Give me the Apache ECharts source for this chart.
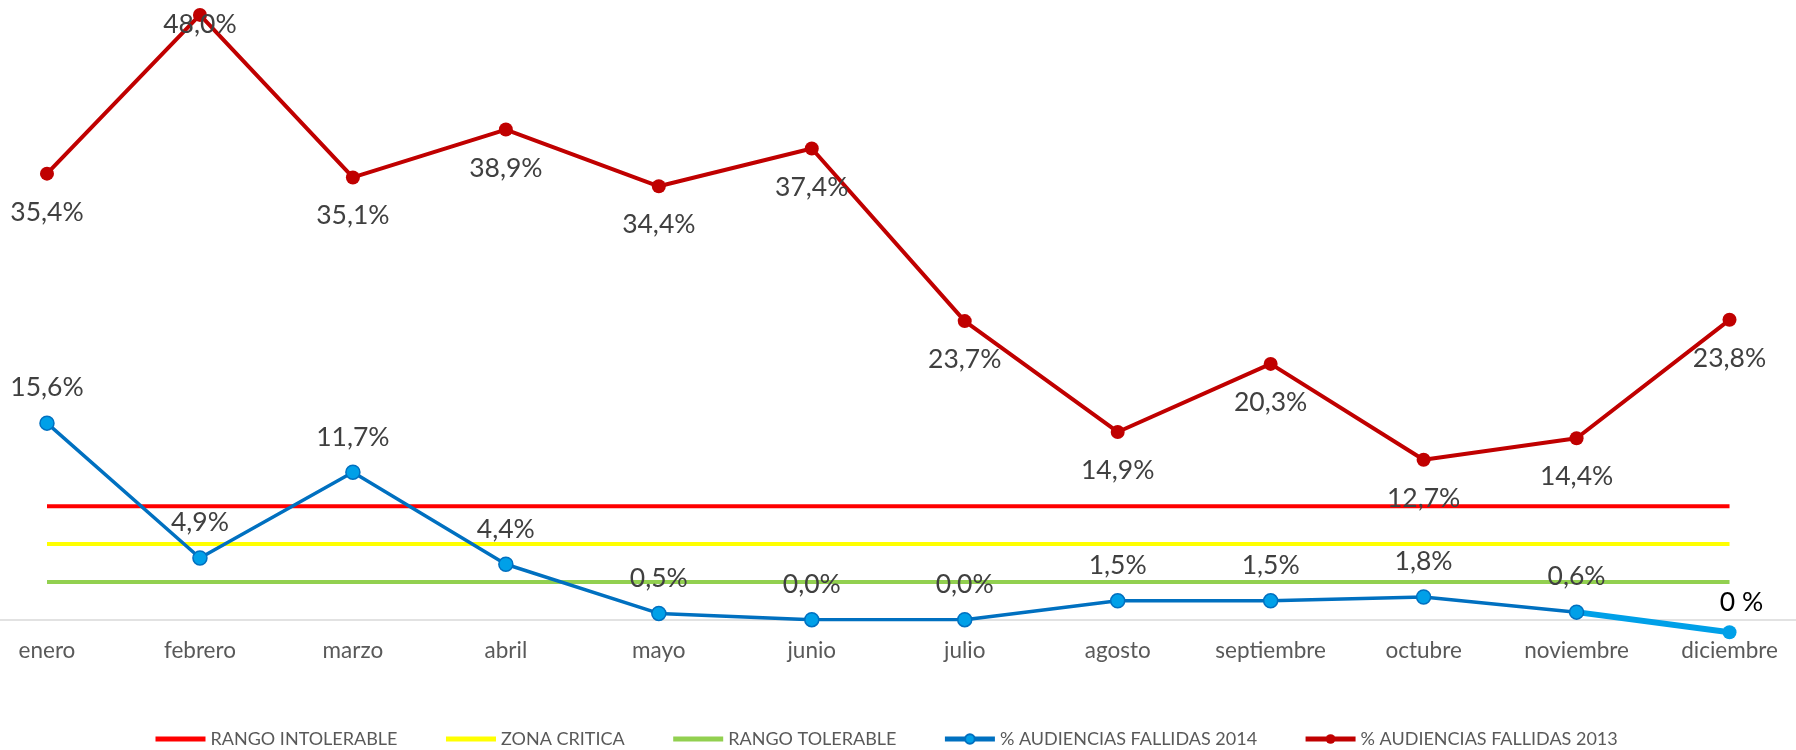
<!DOCTYPE html>
<html>
<head>
<meta charset="utf-8">
<script src="https://cdn.jsdelivr.net/npm/echarts@6/dist/echarts.min.js"></script>
<style>
  html, body { margin: 0; padding: 0; background: #fff; }
  #chart { width: 1796px; height: 750px; }
</style>
</head>
<body>
<div id="chart"></div>
<script>
var months = ["enero", "febrero", "marzo", "abril", "mayo", "junio", "julio",
  "agosto", "septiembre", "octubre", "noviembre", "diciembre"];
var fallidas2013 = [35.4, 48.0, 35.1, 38.9, 34.4, 37.4, 23.7, 14.9, 20.3, 12.7, 14.4, 23.8];
// last point sits a little under the axis in the picture, labelled "0 %"
var fallidas2014 = [15.6, 4.9, 11.7, 4.4, 0.5, 0.0, 0.0, 1.5, 1.5, 1.8, 0.6, -1.0];
var rangoIntolerable = 9;
var zonaCritica = 6;
var rangoTolerable = 3;

var FONT = "Lato, 'Open Sans', sans-serif";

function pct(v) {
  return v.toFixed(1).replace(".", ",") + "%";
}

function flat(v) {
  return months.map(function () { return v; });
}

// main 2014 line stops at noviembre, the last stretch is drawn thicker
var main2014 = fallidas2014.map(function (v, i) { return i < 11 ? v : null; });
var tail2014 = fallidas2014.map(function (v, i) { return i >= 10 ? v : null; });

var data2013 = fallidas2013.map(function (v, i) {
  if (i === 1) {
    return { value: v, label: { offset: [0, -29] } };
  }
  return v;
});

var labelBase = {
  show: true,
  color: "#404040",
  fontSize: 26.5,
  fontFamily: FONT
};

// plain line in the legend for the threshold series
var noMark = { color: "rgba(0,0,0,0)", borderColor: "rgba(0,0,0,0)" };

var chart = echarts.init(document.getElementById("chart"));
chart.setOption({
  animation: false,
  grid: {
    left: -29.5,
    right: -10,
    top: -10.3,
    bottom: 130.3,
    outerBoundsMode: "none"
  },
  legend: {
    data: [
      { name: "RANGO INTOLERABLE", itemStyle: noMark },
      { name: "ZONA CRITICA", itemStyle: noMark },
      { name: "RANGO TOLERABLE", itemStyle: noMark },
      "% AUDIENCIAS FALLIDAS 2014",
      "% AUDIENCIAS FALLIDAS 2013"
    ],
    left: 148,
    top: 725,
    itemWidth: 50,
    itemHeight: 12,
    itemGap: 46,
    lineStyle: { width: 5 },
    textStyle: {
      color: "#595959",
      fontSize: 18,
      fontFamily: FONT
    }
  },
  xAxis: {
    type: "category",
    data: months,
    boundaryGap: true,
    axisLine: { onZero: false, lineStyle: { color: "#d9d9d9", width: 1.5 } },
    axisTick: { show: false },
    axisLabel: {
      color: "#595959",
      fontSize: 22.5,
      fontFamily: FONT,
      margin: 20
    }
  },
  yAxis: {
    type: "value",
    min: 0,
    max: 50,
    interval: 5,
    show: false,
    splitLine: { show: false }
  },
  series: [
    {
      name: "RANGO INTOLERABLE",
      type: "line",
      data: flat(rangoIntolerable),
      symbol: "none",
      color: "#ff0000",
      lineStyle: { color: "#ff0000", width: 4 }
    },
    {
      name: "ZONA CRITICA",
      type: "line",
      data: flat(zonaCritica),
      symbol: "none",
      color: "#ffff00",
      lineStyle: { color: "#ffff00", width: 4 }
    },
    {
      name: "RANGO TOLERABLE",
      type: "line",
      data: flat(rangoTolerable),
      symbol: "none",
      color: "#92d050",
      lineStyle: { color: "#92d050", width: 4 }
    },
    {
      name: "dic2014",
      type: "line",
      data: tail2014,
      clip: false,
      z: 2,
      symbol: "circle",
      symbolSize: function (v, p) { return p.dataIndex === 11 ? 14 : 0; },
      itemStyle: { color: "#00a0e8" },
      lineStyle: { color: "#00a0e8", width: 6 },
      label: Object.assign({}, labelBase, {
        position: "top",
        distance: 15,
        color: "#000000",
        offset: [12, 6],
        formatter: function (p) { return p.dataIndex === 11 ? "0 %" : ""; }
      })
    },
    {
      name: "% AUDIENCIAS FALLIDAS 2014",
      type: "line",
      data: main2014,
      z: 3,
      symbol: "circle",
      symbolSize: 14,
      itemStyle: { color: "#00a0e8", borderColor: "#0070c0", borderWidth: 1.5 },
      lineStyle: { color: "#0070c0", width: 3.5 },
      label: Object.assign({}, labelBase, {
        position: "top",
        distance: 14,
        formatter: function (p) { return pct(p.value); }
      })
    },
    {
      name: "% AUDIENCIAS FALLIDAS 2013",
      type: "line",
      data: data2013,
      z: 3,
      symbol: "circle",
      symbolSize: 14,
      itemStyle: { color: "#c00000" },
      lineStyle: { color: "#c00000", width: 4 },
      label: Object.assign({}, labelBase, {
        position: "bottom",
        distance: 18,
        formatter: function (p) { return pct(p.value); }
      })
    }
  ]
});
</script>
</body>
</html>
